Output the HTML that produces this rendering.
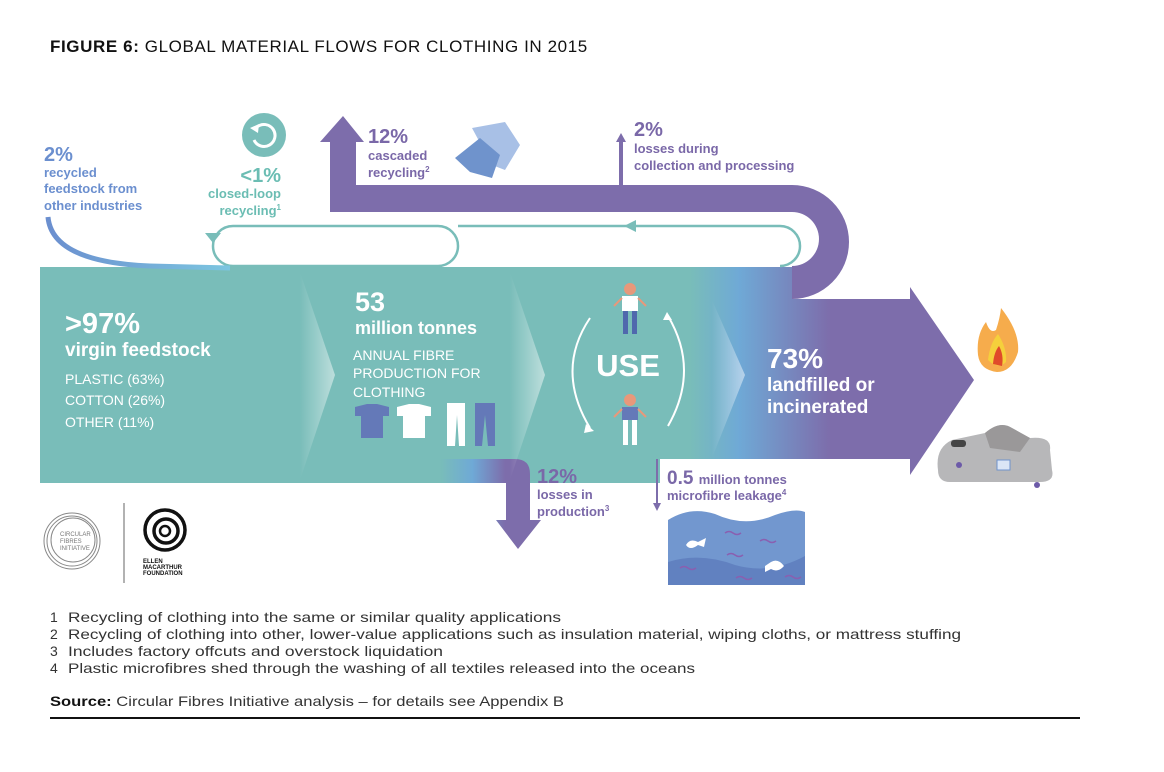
<!DOCTYPE html>
<html><head><meta charset="utf-8"><style>
html,body{margin:0;padding:0;background:#fff;}
svg{display:block;font-family:"Liberation Sans",sans-serif;}
</style></head><body>
<svg width="1164" height="772" viewBox="0 0 1164 772" xmlns="http://www.w3.org/2000/svg">
<defs>
<linearGradient id="band" x1="690" y1="0" x2="830" y2="0" gradientUnits="userSpaceOnUse">
<stop offset="0" stop-color="#79bdb9"/>
<stop offset="0.35" stop-color="#6fa9d6"/>
<stop offset="1" stop-color="#7d6dab"/>
</linearGradient>
<linearGradient id="chev" x1="0" y1="0" x2="1" y2="0">
<stop offset="0" stop-color="#fff" stop-opacity="0"/>
<stop offset="1" stop-color="#fff" stop-opacity="0.5"/>
</linearGradient>
<linearGradient id="blue" x1="0" y1="0" x2="1" y2="0">
<stop offset="0" stop-color="#6b8fcf"/>
<stop offset="1" stop-color="#7cc6e0"/>
</linearGradient>
<linearGradient id="prod" x1="440" y1="0" x2="505" y2="0" gradientUnits="userSpaceOnUse">
<stop offset="0" stop-color="#79bdb9"/>
<stop offset="0.5" stop-color="#6fa9d6"/>
<stop offset="1" stop-color="#7d6dab"/>
</linearGradient>
</defs>

<text x="50" y="52" font-size="17" fill="#111" letter-spacing="0.6"><tspan font-weight="bold">FIGURE 6:</tspan> GLOBAL MATERIAL FLOWS FOR CLOTHING IN 2015</text>

<!-- main band -->
<path d="M 40 267 L 792 267 L 792 299 L 910 299 L 910 287 L 974 380 L 910 475 L 910 459 L 660 459 L 660 483 L 40 483 Z" fill="url(#band)"/>

<!-- U loop (purple) -->
<path d="M 330 212 L 330 142 L 320 142 L 343 116 L 364 142 L 356 142 L 356 185 L 792 185 A 57 57 0 0 1 792 299 L 792 266 A 27 27 0 0 0 792 212 Z" fill="#7d6dab"/>

<path d="M 621 186 L 621 140" stroke="#7d6dab" stroke-width="4"/>
<path d="M 616 142 L 621 133 L 626 142 Z" fill="#7d6dab"/>

<!-- production loss arrow -->
<path d="M 440 459 L 515 459 Q 530 459 530 474 L 530 520 L 541 520 L 518 549 L 496 520 L 506 520 L 506 483 L 440 483 Z" fill="url(#prod)"/>
<path d="M 657 459 L 657 505" stroke="#7d6dab" stroke-width="2"/>
<path d="M 653 503 L 657 511 L 661 503 Z" fill="#7d6dab"/>

<!-- chevrons -->
<path d="M 300 272 L 335 375 L 300 480 Z" fill="url(#chev)"/>
<path d="M 510 272 L 545 375 L 510 480 Z" fill="url(#chev)"/>
<path d="M 712 300 L 745 375 L 712 458 Z" fill="url(#chev)"/>

<!-- teal thin loops -->
<rect x="213" y="226" width="245" height="40" rx="20" fill="#fff" stroke="#79bdb9" stroke-width="2.5"/>
<path d="M 458 226 L 780 226 A 20 20 0 0 1 780 266" fill="none" stroke="#79bdb9" stroke-width="2.5"/>
<path d="M 636 220 L 624 226 L 636 232 Z" fill="#79bdb9"/>
<path d="M 205 233 L 221 233 L 213 243 Z" fill="#79bdb9"/>

<path d="M 48 217 Q 52 262 150 266 L 230 268" fill="none" stroke="url(#blue)" stroke-width="5"/>

<circle cx="264" cy="135" r="22" fill="#79bdb9"/>
<path d="M 257 127 A 11 11 0 1 1 254 140" fill="none" stroke="#fff" stroke-width="3"/>
<path d="M 250 128 L 259 124 L 258 133 Z" fill="#fff"/>

<path d="M 472 128 L 505 122 L 520 145 L 505 170 L 492 165 Z" fill="#a8c0e6"/>
<path d="M 455 158 L 480 138 L 500 155 L 492 178 L 470 172 Z" fill="#6f93cc"/>

<g font-weight="bold" fill="#6b8fcf">
<text x="44" y="161" font-size="20">2%</text>
<text x="44" y="177" font-size="13">recycled</text>
<text x="44" y="193" font-size="13">feedstock from</text>
<text x="44" y="210" font-size="13">other industries</text>
</g>
<g font-weight="bold" fill="#6bbdb3" text-anchor="end">
<text x="281" y="182" font-size="20">&lt;1%</text>
<text x="281" y="198" font-size="13">closed-loop</text>
<text x="281" y="215" font-size="13">recycling<tspan font-size="8" dy="-5">1</tspan></text>
</g>
<g font-weight="bold" fill="#7a68a8">
<text x="368" y="143" font-size="20">12%</text>
<text x="368" y="160" font-size="13">cascaded</text>
<text x="368" y="177" font-size="13">recycling<tspan font-size="8" dy="-5">2</tspan></text>
<text x="634" y="136" font-size="20">2%</text>
<text x="634" y="153" font-size="13">losses during</text>
<text x="634" y="170" font-size="13">collection and processing</text>
<text x="537" y="483" font-size="20">12%</text>
<text x="537" y="499" font-size="13">losses in</text>
<text x="537" y="516" font-size="13">production<tspan font-size="8" dy="-5">3</tspan></text>
<text x="667" y="484" font-size="19">0.5 <tspan font-size="13">million tonnes</tspan></text>
<text x="667" y="500" font-size="13">microfibre leakage<tspan font-size="8" dy="-5">4</tspan></text>
</g>

<g fill="#fff">
<text x="65" y="333" font-size="29" font-weight="bold">&gt;97%</text>
<text x="65" y="356" font-size="19" font-weight="bold">virgin feedstock</text>
<text x="65" y="384" font-size="14">PLASTIC (63%)</text>
<text x="65" y="405" font-size="14">COTTON (26%)</text>
<text x="65" y="427" font-size="14">OTHER (11%)</text>
<text x="355" y="311" font-size="27" font-weight="bold">53</text>
<text x="355" y="334" font-size="18" font-weight="bold">million tonnes</text>
<text x="353" y="360" font-size="14">ANNUAL FIBRE</text>
<text x="353" y="378" font-size="14">PRODUCTION FOR</text>
<text x="353" y="397" font-size="14">CLOTHING</text>
<text x="628" y="376" font-size="31" font-weight="bold" text-anchor="middle">USE</text>
<text x="767" y="368" font-size="28" font-weight="bold">73%</text>
<text x="767" y="391" font-size="19" font-weight="bold">landfilled or</text>
<text x="767" y="413" font-size="19" font-weight="bold">incinerated</text>
</g>

<path d="M 355 407 L 367 404 L 377 404 L 389 407 L 389 416 L 383 416 L 383 438 L 361 438 L 361 416 L 355 416 Z" fill="#6479b8"/>
<path d="M 397 407 L 409 404 L 419 404 L 431 407 L 431 416 L 425 416 L 425 438 L 403 438 L 403 416 L 397 416 Z" fill="#fff"/>
<path d="M 447 403 L 465 403 L 465 446 L 459 446 L 457 415 L 455 446 L 447 446 Z" fill="#fff"/>
<path d="M 475 403 L 495 403 L 495 446 L 488 446 L 485 415 L 482 446 L 475 446 Z" fill="#6479b8"/>

<path d="M 590 318 Q 555 370 590 428" fill="none" stroke="#fff" stroke-width="2"/>
<path d="M 586 424 L 594 431 L 584 433 Z" fill="#fff"/>
<path d="M 668 426 Q 700 370 668 316" fill="none" stroke="#fff" stroke-width="2"/>
<path d="M 663 320 L 667 312 L 672 320 Z" fill="#fff"/>
<g>
<circle cx="630" cy="289" r="6" fill="#e8987a"/>
<rect x="622" y="296" width="16" height="15" fill="#fff"/>
<path d="M 622 298 L 614 306 M 638 298 L 646 306" stroke="#e8987a" stroke-width="2"/>
<rect x="623" y="311" width="5" height="23" fill="#4f68ad"/><rect x="632" y="311" width="5" height="23" fill="#4f68ad"/>
<circle cx="630" cy="400" r="6" fill="#e8987a"/>
<rect x="622" y="407" width="16" height="13" fill="#6479b8"/>
<path d="M 622 409 L 614 417 M 638 409 L 646 417" stroke="#e8987a" stroke-width="2"/>
<rect x="623" y="420" width="5" height="25" fill="#fff"/><rect x="632" y="420" width="5" height="25" fill="#fff"/>
</g>

<path d="M 978 355 Q 976 335 986 322 Q 990 334 996 330 Q 1000 318 1001 308 Q 1020 332 1018 352 Q 1012 372 997 372 Q 980 370 978 355 Z" fill="#f6ac4c"/>
<path d="M 988 360 Q 990 343 998 334 Q 1007 348 1006 362 Q 998 370 988 360 Z" fill="#f5d03c"/>
<path d="M 993 364 Q 994 352 999 346 Q 1004 355 1002 366 Z" fill="#e04a2a"/>
<path d="M 938 470 Q 935 448 952 440 L 985 433 Q 1000 420 1012 428 L 1030 438 Q 1052 436 1050 450 L 1052 470 Q 1055 482 1040 482 L 950 482 Q 938 482 938 470 Z" fill="#b7b7b9"/>
<path d="M 985 433 Q 1000 420 1012 428 L 1030 438 L 1020 452 L 990 448 Z" fill="#9a9899"/>
<rect x="951" y="440" width="15" height="7" rx="3" fill="#444"/>
<rect x="997" y="460" width="13" height="10" fill="#dbe6f6" stroke="#6f93cc"/>
<circle cx="959" cy="465" r="3" fill="#6c5aa8"/>
<circle cx="1037" cy="485" r="3" fill="#6c5aa8"/>

<path d="M 668 520 Q 690 506 715 514 Q 745 528 775 515 Q 795 508 805 512 L 805 585 L 668 585 Z" fill="#7297cf"/>
<path d="M 668 562 Q 700 552 735 565 Q 770 575 805 556 L 805 585 L 668 585 Z" fill="#6181c0"/>
<g fill="#fff">
<path d="M 686 545 Q 690 538 698 542 L 706 538 L 704 547 L 698 545 Q 690 551 686 545 Z"/>
<path d="M 765 566 L 771 562 Q 778 558 784 566 Q 778 573 771 569 L 765 572 Z"/>
</g>
<g stroke="#8a5fb0" stroke-width="1.5" fill="none">
<path d="M 725 533 q 4 -3 8 0 q 4 3 8 0"/><path d="M 760 541 q 4 -3 8 0 q 4 3 8 0"/>
<path d="M 727 555 q 4 -3 8 0 q 4 3 8 0"/><path d="M 680 568 q 4 -3 8 0 q 4 3 8 0"/>
<path d="M 736 578 q 4 -3 8 0 q 4 3 8 0"/><path d="M 785 577 q 4 -3 8 0 q 4 3 8 0"/>
</g>

<g fill="none" stroke="#888" stroke-width="1">
<circle cx="72" cy="541" r="28"/><circle cx="72" cy="541" r="25"/><circle cx="73" cy="540" r="22"/>
</g>
<text x="60" y="536" font-size="6" fill="#777">CIRCULAR</text>
<text x="60" y="543" font-size="6" fill="#777">FIBRES</text>
<text x="60" y="550" font-size="6" fill="#777">INITIATIVE</text>
<line x1="124" y1="503" x2="124" y2="583" stroke="#999" stroke-width="1.5"/>
<g fill="none" stroke="#111" stroke-width="3.5">
<circle cx="165" cy="530" r="20"/><circle cx="166" cy="531" r="12"/><circle cx="165" cy="531" r="5" stroke-width="2.5"/>
</g>
<g font-size="6" font-weight="bold" fill="#111">
<text x="143" y="563">ELLEN</text><text x="143" y="569">MACARTHUR</text><text x="143" y="575">FOUNDATION</text>
</g>

<g font-size="14" fill="#333">
<text x="50" y="622">1</text><text x="68" y="622" textLength="493" lengthAdjust="spacingAndGlyphs">Recycling of clothing into the same or similar quality applications</text>
<text x="50" y="639">2</text><text x="68" y="639" textLength="893" lengthAdjust="spacingAndGlyphs">Recycling of clothing into other, lower-value applications such as insulation material, wiping cloths, or mattress stuffing</text>
<text x="50" y="656">3</text><text x="68" y="656" textLength="375" lengthAdjust="spacingAndGlyphs">Includes factory offcuts and overstock liquidation</text>
<text x="50" y="673">4</text><text x="68" y="673" textLength="627" lengthAdjust="spacingAndGlyphs">Plastic microfibres shed through the washing of all textiles released into the oceans</text>
<text x="50" y="706" textLength="514" lengthAdjust="spacingAndGlyphs"><tspan font-weight="bold" fill="#111">Source:</tspan> Circular Fibres Initiative analysis – for details see Appendix B</text>
</g>
<line x1="50" y1="718" x2="1080" y2="718" stroke="#111" stroke-width="2"/>
</svg>
</body></html>
